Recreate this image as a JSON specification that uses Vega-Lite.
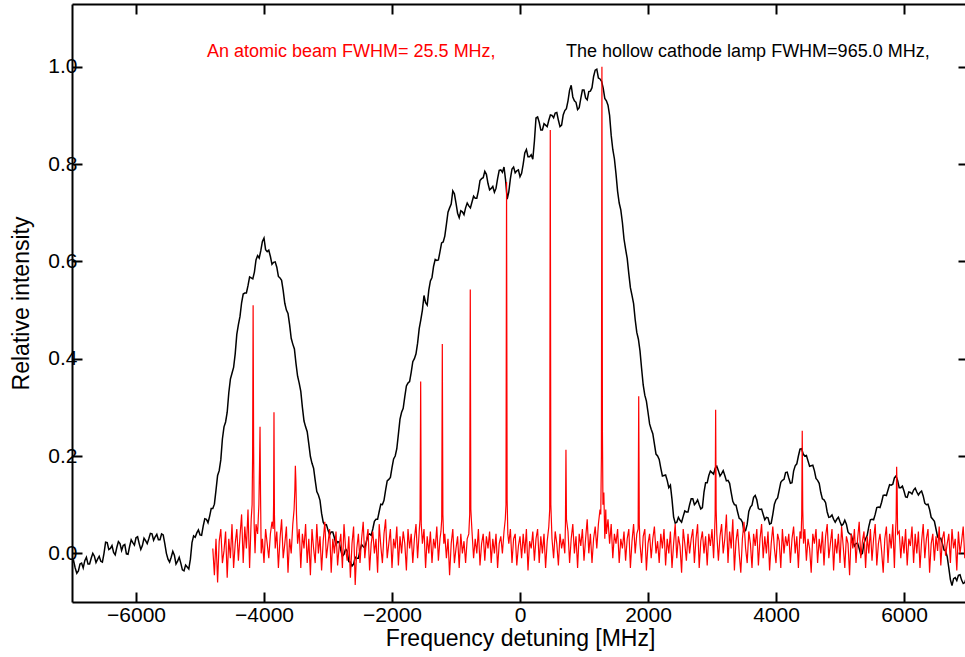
{
"$schema": "https://vega.github.io/schema/vega-lite/v6.json",
"width": 896, "height": 598,
"autosize": {"type": "none"},
"padding": {"left": 72, "top": 4, "right": 0, "bottom": 55},
"background": "white",
"config": {
 "view": {"stroke": null},
 "font": "Liberation Sans",
 "axis": {"grid": false, "domainColor": "black", "domainWidth": 2, "tickColor": "black", "tickWidth": 2, "tickSize": -10, "labelColor": "black", "labelFont": "Liberation Sans", "labelFontSize": 21, "titleFont": "Liberation Sans", "titleFontSize": 23, "titleFontWeight": "normal", "titleColor": "black", "labelPadding": 5}
},
"datasets": {
"lamp": [
{"f":-7000,"v":-0.02},{"f":-6975,"v":-0.015},{"f":-6950,"v":-0.03},{"f":-6925,"v":-0.041},{"f":-6900,"v":-0.036},{"f":-6875,"v":-0.022},{"f":-6850,"v":-0.02},{"f":-6825,"v":-0.03},{"f":-6800,"v":-0.015},{"f":-6775,"v":-0.008},{"f":-6750,"v":-0.022},{"f":-6725,"v":-0.022},{"f":-6700,"v":-0.01},{"f":-6675,"v":0.0},{"f":-6650,"v":-0.006},{"f":-6625,"v":-0.019},{"f":-6600,"v":-0.012},{"f":-6575,"v":-0.006},{"f":-6550,"v":-0.016},{"f":-6525,"v":-0.018},{"f":-6500,"v":0.0},{"f":-6475,"v":0.023},{"f":-6450,"v":0.022},{"f":-6425,"v":0.008},{"f":-6400,"v":0.01},{"f":-6375,"v":0.016},{"f":-6350,"v":0.002},{"f":-6325,"v":-0.003},{"f":-6300,"v":0.012},{"f":-6275,"v":0.024},{"f":-6250,"v":0.02},{"f":-6225,"v":0.006},{"f":-6200,"v":0.016},{"f":-6175,"v":0.018},{"f":-6150,"v":-0.001},{"f":-6125,"v":-0.002},{"f":-6100,"v":0.014},{"f":-6075,"v":0.028},{"f":-6050,"v":0.022},{"f":-6025,"v":0.017},{"f":-6000,"v":0.032},{"f":-5975,"v":0.034},{"f":-5950,"v":0.02},{"f":-5925,"v":0.008},{"f":-5900,"v":0.016},{"f":-5875,"v":0.031},{"f":-5850,"v":0.026},{"f":-5825,"v":0.02},{"f":-5800,"v":0.03},{"f":-5775,"v":0.041},{"f":-5750,"v":0.04},{"f":-5725,"v":0.027},{"f":-5700,"v":0.034},{"f":-5675,"v":0.039},{"f":-5650,"v":0.028},{"f":-5625,"v":0.028},{"f":-5600,"v":0.04},{"f":-5575,"v":0.038},{"f":-5550,"v":0.02},{"f":-5525,"v":0.0},{"f":-5500,"v":-0.012},{"f":-5475,"v":-0.018},{"f":-5450,"v":-0.008},{"f":-5425,"v":0.004},{"f":-5400,"v":-0.004},{"f":-5375,"v":-0.022},{"f":-5350,"v":-0.016},{"f":-5325,"v":-0.008},{"f":-5300,"v":-0.02},{"f":-5275,"v":-0.034},{"f":-5250,"v":-0.036},{"f":-5225,"v":-0.024},{"f":-5200,"v":-0.028},{"f":-5175,"v":-0.032},{"f":-5150,"v":-0.012},{"f":-5125,"v":0.022},{"f":-5100,"v":0.036},{"f":-5075,"v":0.033},{"f":-5050,"v":0.042},{"f":-5025,"v":0.048},{"f":-5000,"v":0.038},{"f":-4975,"v":0.037},{"f":-4950,"v":0.056},{"f":-4925,"v":0.071},{"f":-4900,"v":0.07},{"f":-4875,"v":0.063},{"f":-4850,"v":0.076},{"f":-4825,"v":0.092},{"f":-4800,"v":0.092},{"f":-4775,"v":0.101},{"f":-4750,"v":0.13},{"f":-4725,"v":0.16},{"f":-4700,"v":0.17},{"f":-4675,"v":0.192},{"f":-4650,"v":0.235},{"f":-4625,"v":0.26},{"f":-4600,"v":0.27},{"f":-4575,"v":0.29},{"f":-4550,"v":0.33},{"f":-4525,"v":0.358},{"f":-4500,"v":0.37},{"f":-4475,"v":0.382},{"f":-4450,"v":0.41},{"f":-4425,"v":0.45},{"f":-4400,"v":0.47},{"f":-4375,"v":0.487},{"f":-4350,"v":0.515},{"f":-4325,"v":0.533},{"f":-4300,"v":0.535},{"f":-4275,"v":0.535},{"f":-4250,"v":0.55},{"f":-4225,"v":0.568},{"f":-4200,"v":0.566},{"f":-4175,"v":0.564},{"f":-4150,"v":0.578},{"f":-4125,"v":0.603},{"f":-4100,"v":0.612},{"f":-4075,"v":0.607},{"f":-4050,"v":0.622},{"f":-4025,"v":0.641},{"f":-4000,"v":0.648},{"f":-3975,"v":0.624},{"f":-3950,"v":0.62},{"f":-3925,"v":0.623},{"f":-3900,"v":0.61},{"f":-3875,"v":0.594},{"f":-3850,"v":0.598},{"f":-3825,"v":0.599},{"f":-3800,"v":0.588},{"f":-3775,"v":0.569},{"f":-3750,"v":0.566},{"f":-3725,"v":0.561},{"f":-3700,"v":0.54},{"f":-3675,"v":0.514},{"f":-3650,"v":0.5},{"f":-3625,"v":0.493},{"f":-3600,"v":0.47},{"f":-3575,"v":0.442},{"f":-3550,"v":0.43},{"f":-3525,"v":0.42},{"f":-3500,"v":0.39},{"f":-3475,"v":0.364},{"f":-3450,"v":0.35},{"f":-3425,"v":0.333},{"f":-3400,"v":0.3},{"f":-3375,"v":0.272},{"f":-3350,"v":0.26},{"f":-3325,"v":0.25},{"f":-3300,"v":0.225},{"f":-3275,"v":0.199},{"f":-3250,"v":0.185},{"f":-3225,"v":0.175},{"f":-3200,"v":0.15},{"f":-3175,"v":0.127},{"f":-3150,"v":0.12},{"f":-3125,"v":0.109},{"f":-3100,"v":0.082},{"f":-3075,"v":0.064},{"f":-3050,"v":0.058},{"f":-3025,"v":0.059},{"f":-3000,"v":0.048},{"f":-2975,"v":0.038},{"f":-2950,"v":0.044},{"f":-2925,"v":0.044},{"f":-2900,"v":0.032},{"f":-2875,"v":0.018},{"f":-2850,"v":0.024},{"f":-2825,"v":0.023},{"f":-2800,"v":0.006},{"f":-2775,"v":-0.006},{"f":-2750,"v":-0.002},{"f":-2725,"v":0.009},{"f":-2700,"v":0.004},{"f":-2675,"v":-0.017},{"f":-2650,"v":-0.018},{"f":-2625,"v":-0.026},{"f":-2600,"v":-0.022},{"f":-2575,"v":-0.008},{"f":-2550,"v":-0.01},{"f":-2525,"v":-0.01},{"f":-2500,"v":0.006},{"f":-2475,"v":0.018},{"f":-2450,"v":0.014},{"f":-2425,"v":0.011},{"f":-2400,"v":0.024},{"f":-2375,"v":0.038},{"f":-2350,"v":0.04},{"f":-2325,"v":0.037},{"f":-2300,"v":0.05},{"f":-2275,"v":0.066},{"f":-2250,"v":0.07},{"f":-2225,"v":0.07},{"f":-2200,"v":0.086},{"f":-2175,"v":0.101},{"f":-2150,"v":0.1},{"f":-2125,"v":0.109},{"f":-2100,"v":0.13},{"f":-2075,"v":0.149},{"f":-2050,"v":0.152},{"f":-2025,"v":0.156},{"f":-2000,"v":0.176},{"f":-1975,"v":0.194},{"f":-1950,"v":0.2},{"f":-1925,"v":0.215},{"f":-1900,"v":0.245},{"f":-1875,"v":0.276},{"f":-1850,"v":0.29},{"f":-1825,"v":0.298},{"f":-1800,"v":0.322},{"f":-1775,"v":0.344},{"f":-1750,"v":0.35},{"f":-1725,"v":0.353},{"f":-1700,"v":0.372},{"f":-1675,"v":0.394},{"f":-1650,"v":0.4},{"f":-1625,"v":0.41},{"f":-1600,"v":0.432},{"f":-1575,"v":0.462},{"f":-1550,"v":0.48},{"f":-1525,"v":0.5},{"f":-1500,"v":0.53},{"f":-1475,"v":0.515},{"f":-1450,"v":0.51},{"f":-1425,"v":0.541},{"f":-1400,"v":0.56},{"f":-1375,"v":0.567},{"f":-1350,"v":0.59},{"f":-1325,"v":0.604},{"f":-1300,"v":0.602},{"f":-1275,"v":0.603},{"f":-1250,"v":0.62},{"f":-1225,"v":0.638},{"f":-1200,"v":0.64},{"f":-1175,"v":0.652},{"f":-1150,"v":0.676},{"f":-1125,"v":0.701},{"f":-1100,"v":0.71},{"f":-1075,"v":0.718},{"f":-1050,"v":0.745},{"f":-1025,"v":0.739},{"f":-1000,"v":0.72},{"f":-975,"v":0.699},{"f":-950,"v":0.69},{"f":-925,"v":0.704},{"f":-900,"v":0.702},{"f":-875,"v":0.696},{"f":-850,"v":0.71},{"f":-825,"v":0.72},{"f":-800,"v":0.714},{"f":-775,"v":0.71},{"f":-750,"v":0.722},{"f":-725,"v":0.734},{"f":-700,"v":0.73},{"f":-675,"v":0.73},{"f":-650,"v":0.745},{"f":-625,"v":0.766},{"f":-600,"v":0.77},{"f":-575,"v":0.772},{"f":-550,"v":0.785},{"f":-525,"v":0.779},{"f":-500,"v":0.76},{"f":-475,"v":0.747},{"f":-450,"v":0.75},{"f":-425,"v":0.754},{"f":-400,"v":0.742},{"f":-375,"v":0.75},{"f":-350,"v":0.77},{"f":-325,"v":0.787},{"f":-300,"v":0.788},{"f":-275,"v":0.783},{"f":-250,"v":0.794},{"f":-225,"v":0.767},{"f":-200,"v":0.728},{"f":-175,"v":0.743},{"f":-150,"v":0.77},{"f":-125,"v":0.79},{"f":-100,"v":0.794},{"f":-75,"v":0.782},{"f":-50,"v":0.786},{"f":-25,"v":0.788},{"f":0,"v":0.774},{"f":25,"v":0.781},{"f":50,"v":0.8},{"f":75,"v":0.823},{"f":100,"v":0.83},{"f":125,"v":0.815},{"f":150,"v":0.815},{"f":175,"v":0.819},{"f":200,"v":0.81},{"f":225,"v":0.847},{"f":250,"v":0.895},{"f":275,"v":0.897},{"f":300,"v":0.886},{"f":325,"v":0.87},{"f":350,"v":0.87},{"f":375,"v":0.883},{"f":400,"v":0.88},{"f":425,"v":0.877},{"f":450,"v":0.89},{"f":475,"v":0.901},{"f":500,"v":0.9},{"f":525,"v":0.895},{"f":550,"v":0.905},{"f":575,"v":0.906},{"f":600,"v":0.89},{"f":625,"v":0.877},{"f":650,"v":0.88},{"f":675,"v":0.901},{"f":700,"v":0.91},{"f":725,"v":0.914},{"f":750,"v":0.93},{"f":775,"v":0.952},{"f":800,"v":0.962},{"f":825,"v":0.938},{"f":850,"v":0.93},{"f":875,"v":0.927},{"f":900,"v":0.912},{"f":925,"v":0.916},{"f":950,"v":0.935},{"f":975,"v":0.952},{"f":1000,"v":0.952},{"f":1025,"v":0.936},{"f":1050,"v":0.932},{"f":1075,"v":0.949},{"f":1100,"v":0.95},{"f":1125,"v":0.957},{"f":1150,"v":0.98},{"f":1175,"v":0.993},{"f":1200,"v":0.995},{"f":1225,"v":0.977},{"f":1250,"v":0.975},{"f":1275,"v":0.97},{"f":1300,"v":0.956},{"f":1325,"v":0.935},{"f":1350,"v":0.93},{"f":1375,"v":0.921},{"f":1400,"v":0.9},{"f":1425,"v":0.859},{"f":1450,"v":0.83},{"f":1475,"v":0.811},{"f":1500,"v":0.78},{"f":1525,"v":0.744},{"f":1550,"v":0.72},{"f":1575,"v":0.706},{"f":1600,"v":0.68},{"f":1625,"v":0.646},{"f":1650,"v":0.625},{"f":1675,"v":0.606},{"f":1700,"v":0.575},{"f":1725,"v":0.546},{"f":1750,"v":0.53},{"f":1775,"v":0.513},{"f":1800,"v":0.48},{"f":1825,"v":0.454},{"f":1850,"v":0.44},{"f":1875,"v":0.416},{"f":1900,"v":0.38},{"f":1925,"v":0.346},{"f":1950,"v":0.325},{"f":1975,"v":0.313},{"f":2000,"v":0.29},{"f":2025,"v":0.266},{"f":2050,"v":0.255},{"f":2075,"v":0.246},{"f":2100,"v":0.225},{"f":2125,"v":0.204},{"f":2150,"v":0.2},{"f":2175,"v":0.193},{"f":2200,"v":0.175},{"f":2225,"v":0.159},{"f":2250,"v":0.16},{"f":2275,"v":0.161},{"f":2300,"v":0.15},{"f":2325,"v":0.135},{"f":2350,"v":0.14},{"f":2375,"v":0.111},{"f":2400,"v":0.075},{"f":2425,"v":0.062},{"f":2450,"v":0.064},{"f":2475,"v":0.074},{"f":2500,"v":0.068},{"f":2525,"v":0.064},{"f":2550,"v":0.076},{"f":2575,"v":0.087},{"f":2600,"v":0.085},{"f":2625,"v":0.085},{"f":2650,"v":0.1},{"f":2675,"v":0.112},{"f":2700,"v":0.112},{"f":2725,"v":0.1},{"f":2750,"v":0.104},{"f":2775,"v":0.11},{"f":2800,"v":0.1},{"f":2825,"v":0.091},{"f":2850,"v":0.094},{"f":2875,"v":0.126},{"f":2900,"v":0.145},{"f":2925,"v":0.145},{"f":2950,"v":0.16},{"f":2975,"v":0.169},{"f":3000,"v":0.166},{"f":3025,"v":0.163},{"f":3050,"v":0.175},{"f":3075,"v":0.179},{"f":3100,"v":0.17},{"f":3125,"v":0.159},{"f":3150,"v":0.164},{"f":3175,"v":0.17},{"f":3200,"v":0.16},{"f":3225,"v":0.149},{"f":3250,"v":0.15},{"f":3275,"v":0.144},{"f":3300,"v":0.125},{"f":3325,"v":0.107},{"f":3350,"v":0.1},{"f":3375,"v":0.099},{"f":3400,"v":0.085},{"f":3425,"v":0.072},{"f":3450,"v":0.07},{"f":3475,"v":0.064},{"f":3500,"v":0.045},{"f":3525,"v":0.047},{"f":3550,"v":0.06},{"f":3575,"v":0.086},{"f":3600,"v":0.095},{"f":3625,"v":0.099},{"f":3650,"v":0.115},{"f":3675,"v":0.119},{"f":3700,"v":0.11},{"f":3725,"v":0.092},{"f":3750,"v":0.09},{"f":3775,"v":0.091},{"f":3800,"v":0.08},{"f":3825,"v":0.069},{"f":3850,"v":0.074},{"f":3875,"v":0.073},{"f":3900,"v":0.06},{"f":3925,"v":0.062},{"f":3950,"v":0.08},{"f":3975,"v":0.101},{"f":4000,"v":0.11},{"f":4025,"v":0.114},{"f":4050,"v":0.13},{"f":4075,"v":0.146},{"f":4100,"v":0.15},{"f":4125,"v":0.152},{"f":4150,"v":0.166},{"f":4175,"v":0.167},{"f":4200,"v":0.155},{"f":4225,"v":0.144},{"f":4250,"v":0.145},{"f":4275,"v":0.169},{"f":4300,"v":0.18},{"f":4325,"v":0.184},{"f":4350,"v":0.2},{"f":4375,"v":0.214},{"f":4400,"v":0.215},{"f":4425,"v":0.204},{"f":4450,"v":0.2},{"f":4475,"v":0.201},{"f":4500,"v":0.19},{"f":4525,"v":0.179},{"f":4550,"v":0.18},{"f":4575,"v":0.181},{"f":4600,"v":0.17},{"f":4625,"v":0.154},{"f":4650,"v":0.15},{"f":4675,"v":0.144},{"f":4700,"v":0.125},{"f":4725,"v":0.112},{"f":4750,"v":0.11},{"f":4775,"v":0.104},{"f":4800,"v":0.085},{"f":4825,"v":0.074},{"f":4850,"v":0.075},{"f":4875,"v":0.079},{"f":4900,"v":0.07},{"f":4925,"v":0.064},{"f":4950,"v":0.07},{"f":4975,"v":0.074},{"f":5000,"v":0.065},{"f":5025,"v":0.057},{"f":5050,"v":0.06},{"f":5075,"v":0.068},{"f":5100,"v":0.06},{"f":5125,"v":0.044},{"f":5150,"v":0.04},{"f":5175,"v":0.039},{"f":5200,"v":0.025},{"f":5225,"v":0.015},{"f":5250,"v":0.02},{"f":5275,"v":0.021},{"f":5300,"v":0.01},{"f":5325,"v":-0.003},{"f":5350,"v":0.0},{"f":5375,"v":0.021},{"f":5400,"v":0.03},{"f":5425,"v":0.037},{"f":5450,"v":0.055},{"f":5475,"v":0.069},{"f":5500,"v":0.07},{"f":5525,"v":0.069},{"f":5550,"v":0.08},{"f":5575,"v":0.094},{"f":5600,"v":0.095},{"f":5625,"v":0.094},{"f":5650,"v":0.105},{"f":5675,"v":0.119},{"f":5700,"v":0.12},{"f":5725,"v":0.119},{"f":5750,"v":0.13},{"f":5775,"v":0.141},{"f":5800,"v":0.14},{"f":5825,"v":0.142},{"f":5850,"v":0.155},{"f":5875,"v":0.159},{"f":5900,"v":0.15},{"f":5925,"v":0.135},{"f":5950,"v":0.135},{"f":5975,"v":0.138},{"f":6000,"v":0.128},{"f":6025,"v":0.116},{"f":6050,"v":0.115},{"f":6075,"v":0.126},{"f":6100,"v":0.125},{"f":6125,"v":0.122},{"f":6150,"v":0.13},{"f":6175,"v":0.134},{"f":6200,"v":0.126},{"f":6225,"v":0.12},{"f":6250,"v":0.125},{"f":6275,"v":0.128},{"f":6300,"v":0.118},{"f":6325,"v":0.103},{"f":6350,"v":0.1},{"f":6375,"v":0.101},{"f":6400,"v":0.09},{"f":6425,"v":0.074},{"f":6450,"v":0.07},{"f":6475,"v":0.066},{"f":6500,"v":0.05},{"f":6525,"v":0.034},{"f":6550,"v":0.03},{"f":6575,"v":0.031},{"f":6600,"v":0.02},{"f":6625,"v":0.007},{"f":6650,"v":0.005},{"f":6675,"v":-0.007},{"f":6700,"v":-0.03},{"f":6725,"v":-0.054},{"f":6750,"v":-0.066},{"f":6775,"v":-0.052},{"f":6800,"v":-0.05},{"f":6825,"v":-0.056},{"f":6850,"v":-0.045},{"f":6875,"v":-0.044},{"f":6900,"v":-0.055},{"f":6925,"v":-0.062},{"f":6950,"v":-0.06},{"f":6975,"v":-0.049},{"f":7000,"v":-0.05}
],
"beam": [
{"f":-4800,"v":0.01},{"f":-4775,"v":-0.045},{"f":-4750,"v":0.03},{"f":-4725,"v":-0.06},{"f":-4700,"v":0.025},{"f":-4675,"v":0.05},{"f":-4650,"v":-0.02},{"f":-4625,"v":0.005},{"f":-4600,"v":0.045},{"f":-4575,"v":-0.05},{"f":-4550,"v":0.03},{"f":-4525,"v":-0.01},{"f":-4500,"v":0.06},{"f":-4475,"v":-0.03},{"f":-4450,"v":0.02},{"f":-4425,"v":0.05},{"f":-4400,"v":-0.015},{"f":-4375,"v":0.035},{"f":-4350,"v":0.08},{"f":-4325,"v":-0.02},
{"f":-4300,"v":0.055},{"f":-4275,"v":0.01},{"f":-4250,"v":0.09},{"f":-4225,"v":-0.03},{"f":-4200,"v":0.07},{"f":-4186,"v":0.1},{"f":-4178,"v":0.2},{"f":-4170,"v":0.51},{"f":-4162,"v":0.22},{"f":-4154,"v":0.06},{"f":-4140,"v":0.0},{"f":-4125,"v":0.06},{"f":-4100,"v":0.04},{"f":-4080,"v":0.1},{"f":-4070,"v":0.18},{"f":-4062,"v":0.26},{"f":-4054,"v":0.12},{"f":-4044,"v":0.0},{"f":-4025,"v":0.03},{"f":-4000,"v":-0.02},{"f":-3975,"v":0.05},{"f":-3950,"v":0.02},{"f":-3925,"v":-0.01},{"f":-3900,"v":0.04},{"f":-3875,"v":0.065},{"f":-3856,"v":0.05},{"f":-3850,"v":0.1},{"f":-3844,"v":0.29},{"f":-3837,"v":0.08},{"f":-3825,"v":0.01},
{"f":-3800,"v":0.045},{"f":-3775,"v":-0.03},{"f":-3750,"v":0.03},{"f":-3725,"v":0.07},{"f":-3700,"v":-0.01},{"f":-3675,"v":0.02},{"f":-3650,"v":0.055},{"f":-3625,"v":-0.04},{"f":-3600,"v":0.03},{"f":-3575,"v":0.0},{"f":-3550,"v":0.06},{"f":-3530,"v":0.09},{"f":-3518,"v":0.13},{"f":-3510,"v":0.18},{"f":-3502,"v":0.15},{"f":-3492,"v":0.08},{"f":-3475,"v":0.02},{"f":-3450,"v":0.05},{"f":-3425,"v":-0.03},{"f":-3400,"v":0.04},{"f":-3375,"v":0.01},{"f":-3350,"v":0.06},{"f":-3325,"v":-0.02},
{"f":-3300,"v":0.03},{"f":-3275,"v":-0.045},{"f":-3250,"v":0.05},{"f":-3225,"v":0.01},{"f":-3200,"v":-0.02},{"f":-3175,"v":0.06},{"f":-3150,"v":0.0},{"f":-3125,"v":0.035},{"f":-3100,"v":-0.035},{"f":-3075,"v":0.025},{"f":-3050,"v":0.065},{"f":-3025,"v":-0.01},{"f":-3000,"v":0.02},{"f":-2975,"v":0.05},{"f":-2950,"v":-0.04},{"f":-2925,"v":0.03},{"f":-2900,"v":0.0},{"f":-2875,"v":0.045},{"f":-2850,"v":-0.025},{"f":-2825,"v":0.015},
{"f":-2800,"v":0.04},{"f":-2775,"v":-0.03},{"f":-2750,"v":0.06},{"f":-2725,"v":0.01},{"f":-2700,"v":-0.015},{"f":-2675,"v":0.035},{"f":-2650,"v":-0.05},{"f":-2625,"v":0.02},{"f":-2600,"v":0.055},{"f":-2575,"v":-0.065},{"f":-2550,"v":0.01},{"f":-2525,"v":0.04},{"f":-2500,"v":-0.02},{"f":-2475,"v":0.03},{"f":-2450,"v":0.065},{"f":-2425,"v":-0.01},{"f":-2400,"v":0.025},{"f":-2375,"v":0.05},{"f":-2350,"v":-0.035},{"f":-2325,"v":0.02},
{"f":-2300,"v":0.045},{"f":-2275,"v":0.0},{"f":-2250,"v":0.03},{"f":-2225,"v":-0.04},{"f":-2200,"v":0.06},{"f":-2175,"v":0.015},{"f":-2150,"v":-0.02},{"f":-2125,"v":0.04},{"f":-2100,"v":0.07},{"f":-2075,"v":-0.01},{"f":-2050,"v":0.02},{"f":-2025,"v":0.05},{"f":-2000,"v":-0.03},{"f":-1975,"v":0.03},{"f":-1950,"v":0.01},{"f":-1925,"v":0.055},{"f":-1900,"v":-0.025},{"f":-1875,"v":0.035},{"f":-1850,"v":0.0},{"f":-1825,"v":0.045},
{"f":-1800,"v":0.02},{"f":-1775,"v":-0.035},{"f":-1750,"v":0.05},{"f":-1725,"v":0.01},{"f":-1700,"v":0.04},{"f":-1675,"v":-0.02},{"f":-1650,"v":0.03},{"f":-1625,"v":0.06},{"f":-1600,"v":-0.01},{"f":-1575,"v":0.045},{"f":-1562,"v":0.07},{"f":-1552,"v":0.353},{"f":-1543,"v":0.06},{"f":-1525,"v":0.02},{"f":-1500,"v":0.05},{"f":-1475,"v":-0.03},{"f":-1450,"v":0.035},{"f":-1425,"v":0.0},{"f":-1400,"v":0.045},{"f":-1375,"v":-0.02},{"f":-1350,"v":0.03},{"f":-1325,"v":0.01},
{"f":-1300,"v":0.055},{"f":-1275,"v":-0.015},{"f":-1250,"v":0.03},{"f":-1235,"v":0.045},{"f":-1223,"v":0.07},{"f":-1214,"v":0.43},{"f":-1205,"v":0.08},{"f":-1190,"v":0.02},{"f":-1175,"v":0.04},{"f":-1150,"v":-0.01},{"f":-1125,"v":0.03},{"f":-1100,"v":-0.045},{"f":-1075,"v":0.02},{"f":-1050,"v":0.05},{"f":-1025,"v":-0.02},{"f":-1000,"v":0.01},{"f":-975,"v":0.035},{"f":-950,"v":-0.03},{"f":-925,"v":0.04},{"f":-900,"v":0.0},{"f":-875,"v":0.025},{"f":-850,"v":-0.02},{"f":-825,"v":0.03},
{"f":-800,"v":0.04},{"f":-786,"v":0.08},{"f":-777,"v":0.542},{"f":-768,"v":0.09},{"f":-750,"v":0.045},{"f":-725,"v":-0.01},{"f":-700,"v":0.03},{"f":-675,"v":0.0},{"f":-650,"v":0.05},{"f":-625,"v":-0.025},{"f":-600,"v":0.02},{"f":-575,"v":0.04},{"f":-550,"v":-0.015},{"f":-525,"v":0.035},{"f":-500,"v":0.01},{"f":-475,"v":0.045},{"f":-450,"v":-0.02},{"f":-425,"v":0.03},{"f":-400,"v":0.0},{"f":-375,"v":0.04},{"f":-350,"v":-0.03},{"f":-325,"v":0.02},
{"f":-300,"v":0.035},{"f":-275,"v":0.0},{"f":-250,"v":0.045},{"f":-230,"v":0.07},{"f":-219,"v":0.1},{"f":-210,"v":0.763},{"f":-201,"v":0.11},{"f":-190,"v":0.04},{"f":-175,"v":0.02},{"f":-150,"v":0.05},{"f":-125,"v":-0.02},{"f":-100,"v":0.03},{"f":-75,"v":0.04},{"f":-50,"v":-0.025},{"f":-25,"v":0.015},{"f":0,"v":0.035},{"f":25,"v":-0.01},{"f":50,"v":0.04},{"f":75,"v":0.0},{"f":100,"v":0.05},{"f":125,"v":-0.035},{"f":150,"v":0.025},{"f":175,"v":0.01},
{"f":200,"v":0.045},{"f":225,"v":-0.015},{"f":250,"v":0.03},{"f":275,"v":0.05},{"f":300,"v":-0.02},{"f":325,"v":0.035},{"f":350,"v":0.0},{"f":375,"v":0.04},{"f":400,"v":-0.03},{"f":425,"v":0.025},{"f":450,"v":0.055},{"f":464,"v":0.09},{"f":473,"v":0.87},{"f":482,"v":0.1},{"f":500,"v":0.03},{"f":525,"v":-0.01},{"f":550,"v":0.045},{"f":575,"v":0.02},{"f":600,"v":-0.025},{"f":625,"v":0.04},{"f":650,"v":0.01},{"f":675,"v":0.03},
{"f":700,"v":0.0},{"f":710,"v":0.06},{"f":718,"v":0.213},{"f":726,"v":0.07},{"f":750,"v":0.045},{"f":775,"v":-0.02},{"f":800,"v":0.03},{"f":825,"v":0.06},{"f":850,"v":0.0},{"f":875,"v":0.035},{"f":900,"v":-0.03},{"f":925,"v":0.04},{"f":950,"v":0.015},{"f":975,"v":0.05},{"f":1000,"v":-0.015},{"f":1025,"v":0.03},{"f":1050,"v":0.07},{"f":1075,"v":0.0},{"f":1100,"v":0.04},{"f":1125,"v":-0.02},{"f":1150,"v":0.03},{"f":1175,"v":0.055},
{"f":1200,"v":0.01},{"f":1225,"v":0.06},{"f":1250,"v":0.09},{"f":1262,"v":0.08},{"f":1272,"v":0.2},{"f":1280,"v":1.0},{"f":1288,"v":0.25},{"f":1296,"v":0.1},{"f":1310,"v":0.125},{"f":1325,"v":0.03},{"f":1340,"v":0.09},{"f":1350,"v":0.04},{"f":1375,"v":0.07},{"f":1400,"v":0.02},{"f":1425,"v":0.06},{"f":1450,"v":-0.01},{"f":1475,"v":0.04},{"f":1500,"v":0.02},{"f":1525,"v":0.05},{"f":1550,"v":-0.02},{"f":1575,"v":0.03},{"f":1600,"v":0.01},{"f":1625,"v":0.045},{"f":1650,"v":-0.015},{"f":1675,"v":0.03},
{"f":1700,"v":0.05},{"f":1725,"v":-0.03},{"f":1750,"v":0.025},{"f":1775,"v":0.06},{"f":1800,"v":0.0},{"f":1825,"v":0.04},{"f":1846,"v":0.05},{"f":1855,"v":0.323},{"f":1864,"v":0.06},{"f":1875,"v":0.02},{"f":1900,"v":-0.02},{"f":1925,"v":0.035},{"f":1950,"v":0.05},{"f":1975,"v":-0.035},{"f":2000,"v":0.02},{"f":2025,"v":0.04},{"f":2050,"v":-0.01},{"f":2075,"v":0.03},{"f":2100,"v":0.055},{"f":2125,"v":0.0},{"f":2150,"v":0.025},{"f":2175,"v":-0.02},
{"f":2200,"v":0.04},{"f":2225,"v":0.01},{"f":2250,"v":0.05},{"f":2275,"v":-0.025},{"f":2300,"v":0.03},{"f":2325,"v":0.0},{"f":2350,"v":0.045},{"f":2375,"v":-0.03},{"f":2400,"v":0.02},{"f":2425,"v":0.06},{"f":2450,"v":-0.01},{"f":2475,"v":0.035},{"f":2500,"v":0.015},{"f":2525,"v":-0.04},{"f":2550,"v":0.05},{"f":2575,"v":0.02},{"f":2600,"v":-0.015},{"f":2625,"v":0.04},{"f":2650,"v":0.0},{"f":2675,"v":0.03},
{"f":2700,"v":0.05},{"f":2725,"v":-0.02},{"f":2750,"v":0.03},{"f":2775,"v":0.06},{"f":2800,"v":-0.03},{"f":2825,"v":0.025},{"f":2850,"v":0.045},{"f":2875,"v":0.0},{"f":2900,"v":0.035},{"f":2925,"v":-0.025},{"f":2950,"v":0.04},{"f":2975,"v":0.015},{"f":3000,"v":0.05},{"f":3025,"v":-0.01},{"f":3040,"v":0.04},{"f":3049,"v":0.08},{"f":3057,"v":0.295},{"f":3065,"v":0.09},{"f":3075,"v":0.04},{"f":3100,"v":-0.015},{"f":3125,"v":0.035},{"f":3150,"v":0.06},{"f":3175,"v":0.0},
{"f":3200,"v":0.03},{"f":3225,"v":0.08},{"f":3250,"v":-0.02},{"f":3275,"v":0.045},{"f":3300,"v":0.01},{"f":3325,"v":0.07},{"f":3350,"v":-0.035},{"f":3375,"v":0.025},{"f":3400,"v":0.05},{"f":3425,"v":0.0},{"f":3450,"v":-0.04},{"f":3475,"v":0.03},{"f":3500,"v":0.065},{"f":3525,"v":0.01},{"f":3550,"v":-0.02},{"f":3575,"v":0.045},{"f":3600,"v":0.02},{"f":3625,"v":-0.03},{"f":3650,"v":0.04},{"f":3675,"v":0.015},
{"f":3700,"v":0.05},{"f":3725,"v":-0.025},{"f":3750,"v":0.03},{"f":3775,"v":0.06},{"f":3800,"v":-0.01},{"f":3825,"v":0.035},{"f":3850,"v":0.0},{"f":3875,"v":0.045},{"f":3900,"v":-0.035},{"f":3925,"v":0.02},{"f":3950,"v":0.055},{"f":3975,"v":0.01},{"f":4000,"v":-0.02},{"f":4025,"v":0.04},{"f":4050,"v":0.025},{"f":4075,"v":-0.03},{"f":4100,"v":0.05},{"f":4125,"v":0.0},{"f":4150,"v":0.035},{"f":4175,"v":0.015},
{"f":4200,"v":0.04},{"f":4225,"v":-0.02},{"f":4250,"v":0.03},{"f":4275,"v":0.055},{"f":4300,"v":0.0},{"f":4325,"v":0.035},{"f":4350,"v":-0.03},{"f":4375,"v":0.045},{"f":4392,"v":0.03},{"f":4402,"v":0.08},{"f":4410,"v":0.252},{"f":4418,"v":0.09},{"f":4430,"v":0.02},{"f":4450,"v":0.05},{"f":4475,"v":-0.015},{"f":4500,"v":0.03},{"f":4525,"v":0.01},{"f":4550,"v":-0.04},{"f":4575,"v":0.04},{"f":4600,"v":0.02},{"f":4625,"v":0.05},{"f":4650,"v":-0.02},{"f":4675,"v":0.03},
{"f":4700,"v":0.0},{"f":4725,"v":0.045},{"f":4750,"v":-0.025},{"f":4775,"v":0.035},{"f":4800,"v":0.06},{"f":4825,"v":-0.01},{"f":4850,"v":0.02},{"f":4875,"v":0.05},{"f":4900,"v":-0.035},{"f":4925,"v":0.03},{"f":4950,"v":0.0},{"f":4975,"v":0.04},{"f":5000,"v":-0.02},{"f":5025,"v":0.055},{"f":5050,"v":0.015},{"f":5075,"v":-0.03},{"f":5100,"v":0.035},{"f":5125,"v":0.02},{"f":5150,"v":-0.045},{"f":5175,"v":0.04},
{"f":5200,"v":0.01},{"f":5225,"v":0.05},{"f":5250,"v":-0.02},{"f":5275,"v":0.03},{"f":5300,"v":0.065},{"f":5325,"v":-0.01},{"f":5350,"v":0.025},{"f":5375,"v":0.045},{"f":5400,"v":-0.03},{"f":5425,"v":0.035},{"f":5450,"v":0.0},{"f":5475,"v":0.05},{"f":5500,"v":-0.015},{"f":5525,"v":0.03},{"f":5550,"v":0.06},{"f":5575,"v":-0.025},{"f":5600,"v":0.02},{"f":5625,"v":0.04},{"f":5650,"v":0.005},{"f":5675,"v":-0.04},
{"f":5700,"v":0.03},{"f":5725,"v":0.055},{"f":5750,"v":-0.02},{"f":5775,"v":0.04},{"f":5800,"v":0.01},{"f":5825,"v":0.06},{"f":5850,"v":-0.03},{"f":5866,"v":0.04},{"f":5877,"v":0.07},{"f":5885,"v":0.178},{"f":5893,"v":0.13},{"f":5900,"v":0.04},{"f":5925,"v":0.045},{"f":5950,"v":-0.01},{"f":5975,"v":0.035},{"f":6000,"v":0.0},{"f":6025,"v":0.05},{"f":6050,"v":-0.025},{"f":6075,"v":0.03},{"f":6100,"v":0.015},{"f":6125,"v":0.055},{"f":6150,"v":-0.02},{"f":6175,"v":0.04},
{"f":6200,"v":0.0},{"f":6225,"v":0.045},{"f":6250,"v":-0.03},{"f":6275,"v":0.025},{"f":6300,"v":0.06},{"f":6325,"v":-0.01},{"f":6350,"v":0.03},{"f":6375,"v":0.05},{"f":6400,"v":-0.04},{"f":6425,"v":0.02},{"f":6450,"v":0.04},{"f":6475,"v":-0.015},{"f":6500,"v":0.035},{"f":6525,"v":0.005},{"f":6550,"v":0.055},{"f":6575,"v":-0.025},{"f":6600,"v":0.03},{"f":6625,"v":0.045},{"f":6650,"v":-0.005},{"f":6675,"v":0.02},
{"f":6700,"v":0.04},{"f":6725,"v":-0.02},{"f":6750,"v":0.05},{"f":6775,"v":0.01},{"f":6800,"v":0.03},{"f":6825,"v":-0.035},{"f":6850,"v":0.045},{"f":6875,"v":0.0},{"f":6900,"v":0.025},{"f":6925,"v":0.055},{"f":6950,"v":-0.01},{"f":6975,"v":0.03},{"f":7000,"v":0.015}
],
"notes": [
{"f":-4890,"v":1.0206,"t":"An atomic beam FWHM= 25.5 MHz,","c":"beam"},
{"f":719,"v":1.0206,"t":"The hollow cathode lamp FWHM=965.0 MHz,","c":"lamp"}
]
},
"layer": [
 {
  "data": {"name": "lamp"},
  "mark": {"type": "line", "color": "black", "strokeWidth": 1.5, "clip": true},
  "encoding": {
   "x": {"field": "f", "type": "quantitative", "scale": {"domain": [-7000, 7000], "nice": false, "zero": false},
     "axis": {"orient": "bottom", "values": [-6000, -4000, -2000, 0, 2000, 4000, 6000], "format": "d", "title": "Frequency detuning [MHz]", "labelPadding": 12, "titlePadding": 2}},
   "y": {"field": "v", "type": "quantitative", "scale": {"domain": [-0.1, 1.129], "nice": false, "zero": false},
     "axis": {"orient": "left", "values": [0, 0.2, 0.4, 0.6, 0.8, 1.0], "format": ".1f", "title": "Relative intensity", "labelPadding": 5, "titlePadding": 14}}
  }
 },
 {
  "data": {"name": "beam"},
  "mark": {"type": "line", "color": "#ff0000", "strokeWidth": 1.2, "clip": true},
  "encoding": {
   "x": {"field": "f", "type": "quantitative",
     "axis": {"orient": "top", "values": [-6000, -4000, -2000, 0, 2000, 4000, 6000], "labels": false, "title": null}},
   "y": {"field": "v", "type": "quantitative",
     "axis": {"orient": "right", "values": [0, 0.2, 0.4, 0.6, 0.8, 1.0], "labels": false, "title": null}}
  }
 },
 {
  "data": {"name": "notes"},
  "mark": {"type": "text", "align": "left", "baseline": "alphabetic", "fontSize": 18, "font": "Liberation Sans"},
  "encoding": {
   "x": {"field": "f", "type": "quantitative", "axis": null},
   "y": {"field": "v", "type": "quantitative", "axis": null},
   "text": {"field": "t"},
   "color": {"field": "c", "type": "nominal", "scale": {"domain": ["beam", "lamp"], "range": ["#ff0000", "black"]}, "legend": null}
  }
 }
],
"resolve": {"axis": {"x": "independent", "y": "independent"}}
}
